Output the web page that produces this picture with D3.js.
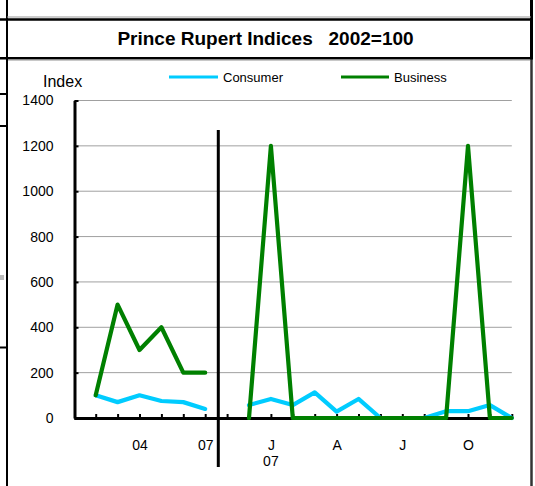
<!DOCTYPE html>
<html>
<head>
<meta charset="utf-8">
<script src="https://cdn.jsdelivr.net/npm/d3@7"></script>
<style>
  html, body { margin: 0; padding: 0; background: #fff; }
  svg { display: block; font-family: "Liberation Sans", Arial, sans-serif; }
</style>
</head>
<body>
<svg id="chart" width="535" height="486"></svg>
<script>
// Annual indices, 2002 to 2007
const years = ["02", "03", "04", "05", "06", "07"];
const yearConsumer = [100, 70, 100, 75, 70, 40];
const yearBusiness = [100, 500, 300, 400, 200, 200];

// Monthly indices, December 2006 to December 2007
const months = ["D", "J", "F", "M", "A", "M", "J", "J", "A", "S", "O", "N", "D"];
const monthConsumer = [57, 84, 57, 113, 28, 84, 0, 0, 0, 30, 30, 57, 0];
const monthBusiness = [0, 1200, 0, 0, 0, 0, 0, 0, 0, 0, 1200, 0, 0];

// Tick labels shown along the category axis
const yearLabels = { "04": "04", "07": "07" };
const monthLabelIdx = [1, 4, 7, 10];
const monthYearNote = "07";

const yTicks = [0, 200, 400, 600, 800, 1000, 1200, 1400];

const title = "Prince Rupert Indices\u00a0\u00a0 2002=100";
const seriesNames = ["Consumer", "Business"];
const colors = { Consumer: "#00CCFF", Business: "#008000" };

// Slot positions: slot 0 is the value axis, years fill 1..6, slot 7 is a gap,
// months fill 8..20
const yearSlot = i => 1 + i;
const monthSlot = i => 8 + i;
const nSlots = 20;

const svg = d3.select("#chart");

// ---- spreadsheet cell borders around the chart ----
const frame = svg.append("g");
frame.append("line").attr("x1", 7).attr("x2", 7).attr("y1", 0).attr("y2", 486)
  .attr("stroke", "#000").attr("stroke-width", 2);
frame.append("line").attr("x1", 531.5).attr("x2", 531.5).attr("y1", 0).attr("y2", 59)
  .attr("stroke", "#000").attr("stroke-width", 3);
frame.append("line").attr("x1", 531.5).attr("x2", 531.5).attr("y1", 59).attr("y2", 486)
  .attr("stroke", "#333", ).attr("stroke-width", 2.5);
frame.append("line").attr("x1", 7).attr("x2", 531).attr("y1", 17).attr("y2", 17)
  .attr("stroke", "#999").attr("stroke-width", 1);
frame.append("line").attr("x1", 0).attr("x2", 533).attr("y1", 19.5).attr("y2", 19.5)
  .attr("stroke", "#000").attr("stroke-width", 2.5);
frame.append("line").attr("x1", 0).attr("x2", 533).attr("y1", 58.3).attr("y2", 58.3)
  .attr("stroke", "#000").attr("stroke-width", 2.5);
frame.append("line").attr("x1", 8).attr("x2", 530).attr("y1", 60.3).attr("y2", 60.3)
  .attr("stroke", "#bbb").attr("stroke-width", 1);
[94, 126, 347.5].forEach(yy => {
  frame.append("line").attr("x1", 0).attr("x2", 6).attr("y1", yy).attr("y2", yy)
    .attr("stroke", "#000").attr("stroke-width", 2);
});
frame.append("rect").attr("x", 0).attr("y", 275).attr("width", 4).attr("height", 5)
  .attr("fill", "#bbb");

// ---- title ----
svg.append("text")
  .attr("x", 265.5).attr("y", 45)
  .attr("text-anchor", "middle")
  .attr("font-size", 19).attr("font-weight", "bold")
  .attr("fill", "#000")
  .text(title);

// ---- scales ----
const x = d3.scaleLinear().domain([0, nSlots]).range([73.8, 511.8]);
const y = d3.scaleLinear().domain([0, 1400]).range([418, 100.5]);

// ---- gridlines ----
svg.append("g")
  .selectAll("line")
  .data(yTicks.filter(d => d > 0))
  .join("line")
  .attr("x1", x(0)).attr("x2", x(nSlots))
  .attr("y1", d => y(d)).attr("y2", d => y(d))
  .attr("stroke", "#a0a0a0").attr("stroke-width", 1);

// ---- value axis ----
const yAxis = svg.append("g")
  .attr("transform", `translate(${x(0) + 0.7},0)`)
  .call(d3.axisLeft(y).tickValues(yTicks).tickFormat(d3.format("d"))
    .tickSizeInner(-4).tickSizeOuter(0).tickPadding(21));
yAxis.select(".domain").attr("stroke", "#000").attr("stroke-width", 3);
yAxis.selectAll(".tick line").attr("stroke", "#000").attr("stroke-width", 2);
yAxis.selectAll(".tick text")
  .attr("font-size", 14).attr("fill", "#000")
  .attr("font-family", "Liberation Sans, Arial, sans-serif");

svg.append("text")
  .attr("x", 43).attr("y", 87)
  .attr("font-size", 16).attr("fill", "#000")
  .text("Index");

// ---- category axis ----
const slotLabel = d3.range(nSlots + 1).map(() => "");
years.forEach((yr, i) => { if (yearLabels[yr]) slotLabel[yearSlot(i)] = yearLabels[yr]; });
monthLabelIdx.forEach(i => { slotLabel[monthSlot(i)] = months[i]; });

const xAxis = svg.append("g")
  .attr("transform", `translate(0,${y(0)})`)
  .call(d3.axisBottom(x).tickValues(d3.range(1, nSlots + 1))
    .tickFormat(d => slotLabel[d])
    .tickSizeInner(-4).tickSizeOuter(0).tickPadding(22));
xAxis.select(".domain").attr("stroke", "#000").attr("stroke-width", 3);
xAxis.selectAll(".tick line").attr("stroke", "#000").attr("stroke-width", 2);
xAxis.selectAll(".tick text")
  .attr("font-size", 14).attr("fill", "#000")
  .attr("font-family", "Liberation Sans, Arial, sans-serif");

svg.append("text")
  .attr("x", x(monthSlot(monthLabelIdx[0]))).attr("y", 466)
  .attr("text-anchor", "middle")
  .attr("font-size", 14).attr("fill", "#000")
  .text(monthYearNote);

// ---- break between annual and monthly sections ----
svg.append("line")
  .attr("x1", 218.3).attr("x2", 218.3).attr("y1", 130).attr("y2", 467)
  .attr("stroke", "#000").attr("stroke-width", 3);

// ---- series lines ----
const line = d3.line().x(d => x(d.slot)).y(d => y(d.v));
const seriesData = {
  Consumer: [yearConsumer.map((v, i) => ({ slot: yearSlot(i), v })),
             monthConsumer.map((v, i) => ({ slot: monthSlot(i), v }))],
  Business: [yearBusiness.map((v, i) => ({ slot: yearSlot(i), v })),
             monthBusiness.map((v, i) => ({ slot: monthSlot(i), v }))]
};
seriesNames.forEach(name => {
  svg.append("g")
    .selectAll("path")
    .data(seriesData[name])
    .join("path")
    .attr("d", line)
    .attr("fill", "none")
    .attr("stroke", colors[name])
    .attr("stroke-width", 4.2)
    .attr("stroke-linejoin", "round")
    .attr("stroke-linecap", "round");
});

// ---- legend ----
const legendPos = [{ x1: 169, x2: 218, tx: 223 }, { x1: 341, x2: 389, tx: 394 }];
seriesNames.forEach((name, i) => {
  const p = legendPos[i];
  svg.append("line")
    .attr("x1", p.x1).attr("x2", p.x2).attr("y1", 77).attr("y2", 77)
    .attr("stroke", colors[name]).attr("stroke-width", 3);
  svg.append("text")
    .attr("x", p.tx).attr("y", 81.5)
    .attr("font-size", 13).attr("fill", "#000")
    .text(name);
});
</script>
</body>
</html>
